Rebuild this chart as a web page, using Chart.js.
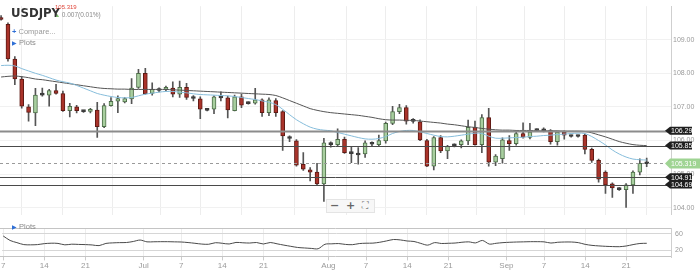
<!DOCTYPE html>
<html><head><meta charset="utf-8">
<script src="https://cdn.jsdelivr.net/npm/chart.js@4.4.0/dist/chart.umd.min.js"></script>
<style>
html,body{margin:0;padding:0;background:#fff;width:700px;height:276px;overflow:hidden;font-family:"Liberation Sans",Arial,sans-serif;}
canvas{position:absolute;left:0;}
#main{top:0;}
#sub{top:220px;}
.t{position:absolute;white-space:nowrap;line-height:1;}
</style></head><body>
<canvas id="main" width="700" height="221"></canvas>
<canvas id="sub" width="700" height="52"></canvas>

<div class="t" style="left:11px;top:5px;font:bold 13px 'Liberation Sans Narrow','DejaVu Sans Condensed',sans-serif;color:#333;">USDJPY</div>
<div class="t" style="left:55px;top:4px;font-size:6px;color:#e0463a;">105.319</div>
<div class="t" style="left:55px;top:12px;font-size:6.5px;color:#8a8a8a;"><span style="color:#7cc06e;font-size:5px;">&#9650;</span> 0.007(0.01%)</div>
<div class="t" style="left:12px;top:28px;font-size:7.5px;color:#9a9a9a;"><span style="color:#2f6fd6;font-weight:bold;">+</span> Compare...</div>
<div class="t" style="left:12px;top:39px;font-size:7.5px;color:#8a8a8a;"><span style="color:#2f6fd6;font-size:6px;">&#9654;</span> Plots</div>
<div class="t" style="left:12px;top:223px;font-size:7.5px;color:#8a8a8a;"><span style="color:#2f6fd6;font-size:6px;">&#9654;</span> Plots</div>
<div style="position:absolute;left:326px;top:199px;width:47px;height:12px;background:#f7f7f7;border:1px solid #e4e4e4;"></div>
<div class="t" style="left:330px;top:199px;font:bold 11px 'DejaVu Sans',sans-serif;color:#666;">&#8722;</div>
<div class="t" style="left:346px;top:199px;font:bold 11px 'DejaVu Sans',sans-serif;color:#666;">+</div>
<div class="t" style="left:362px;top:200px;font:9px 'DejaVu Sans',sans-serif;color:#777;">&#x26F6;</div>

<script>
// ---- categories (trading days, Sun-Fri) ----
const dates = [];
(function(){ let d = Date.UTC(2020,5,7); while (dates.length < 95) { const dt = new Date(d); if (dt.getUTCDay() !== 6) dates.push(dt.toISOString().slice(0,10)); d += 86400000; } })();

const tickDates  = ['2020-06-07','2020-06-14','2020-06-21','2020-07-01','2020-07-07','2020-07-14','2020-07-21','2020-08-02','2020-08-07','2020-08-14','2020-08-21','2020-09-01','2020-09-07','2020-09-14','2020-09-21'];
const tickLabels = ['7','14','21','Jul','7','14','21','Aug','7','14','21','Sep','7','14','21'];
const priceTicks = [104,105,106,107,108,109];
const subTicks = [20,60];

// ---- OHLC ----
const opens  = [109.66,109.46,108.42,107.83,107.00,106.82,107.37,107.35,107.49,107.40,106.89,107.00,106.87,106.87,106.91,106.41,107.04,107.17,107.15,107.24,107.58,108.00,107.40,107.51,107.52,107.56,107.38,107.58,107.27,107.24,106.92,106.93,107.29,107.27,106.89,107.30,107.12,107.11,107.21,106.83,107.19,106.86,106.08,105.99,105.29,105.13,105.06,104.71,105.90,105.88,106.04,105.63,105.59,105.60,105.91,105.88,105.99,106.51,106.86,106.98,106.59,106.56,106.00,105.24,106.09,105.69,105.86,105.88,105.99,106.39,105.88,106.68,105.36,105.46,106.00,105.91,106.21,106.09,106.31,106.31,106.30,105.97,106.25,106.14,106.14,106.16,105.74,105.41,105.06,104.71,104.56,104.54,104.68,105.06,105.33];
const highs  = [109.72,109.50,108.50,107.90,107.07,107.55,107.56,107.52,107.67,107.47,107.11,107.05,106.90,106.96,107.14,107.10,107.28,107.33,107.28,107.84,108.12,108.15,107.72,107.57,107.62,107.75,107.77,107.70,107.34,107.30,106.95,107.33,107.45,107.32,107.35,107.38,107.15,107.55,107.24,107.27,107.25,106.89,106.14,106.03,105.64,105.20,105.32,106.07,105.96,106.35,106.10,105.83,105.79,105.99,105.96,106.16,106.55,107.02,107.08,107.04,106.65,106.62,106.04,106.12,106.15,105.86,105.90,106.02,106.61,106.58,106.77,106.96,105.58,106.08,106.15,106.30,106.53,106.51,106.35,106.38,106.33,106.28,106.29,106.16,106.16,106.20,105.78,105.45,105.10,104.74,104.60,104.72,105.10,105.46,105.48];
const lows   = [109.58,108.36,107.66,106.96,106.58,106.44,107.32,107.02,107.38,106.87,106.70,106.82,106.84,106.82,106.09,106.38,107.02,106.83,107.12,107.10,107.55,107.38,107.35,107.45,107.48,107.30,107.28,107.22,107.18,106.65,106.88,106.80,107.18,106.67,106.88,106.98,107.08,107.08,106.72,106.74,106.72,105.71,105.97,105.24,105.11,104.80,104.68,104.19,105.80,105.83,105.62,105.34,105.30,105.50,105.85,105.85,105.92,106.47,106.80,106.49,106.52,106.00,105.22,105.13,105.64,105.46,105.81,105.78,105.88,105.86,105.64,105.24,105.25,105.33,105.71,105.86,106.07,106.05,106.27,106.26,105.89,105.86,106.04,106.10,106.10,105.60,105.35,104.76,104.43,104.31,104.52,104.01,104.43,104.98,105.22];
const closes = [109.60,108.43,107.83,107.02,106.84,107.35,107.35,107.49,107.40,106.89,107.02,106.89,106.86,106.93,106.41,107.04,107.17,107.25,107.25,107.56,108.00,107.39,107.52,107.49,107.58,107.38,107.58,107.28,107.25,106.93,106.90,107.30,107.27,106.91,107.30,107.05,107.10,107.21,106.83,107.21,106.83,106.14,106.06,105.27,105.15,105.06,104.71,105.93,105.88,106.04,105.64,105.61,105.57,105.93,105.89,106.00,106.51,106.86,106.98,106.58,106.57,106.02,105.24,106.09,105.69,105.83,105.84,105.99,106.39,105.88,106.68,105.36,105.54,106.02,105.91,106.21,106.10,106.25,106.30,106.29,105.97,106.25,106.16,106.12,106.12,105.74,105.41,104.85,104.68,104.59,104.54,104.68,105.06,105.32,105.31];

// ---- moving averages ----
const maSlow = [107.89,107.91,107.92,107.90,107.87,107.83,107.81,107.78,107.75,107.72,107.69,107.66,107.63,107.60,107.57,107.55,107.54,107.53,107.53,107.52,107.52,107.52,107.52,107.52,107.52,107.51,107.50,107.49,107.48,107.47,107.46,107.45,107.44,107.43,107.42,107.41,107.40,107.39,107.38,107.37,107.34,107.27,107.19,107.11,107.03,106.95,106.90,106.86,106.83,106.81,106.79,106.77,106.75,106.72,106.69,106.65,106.62,106.61,106.61,106.60,106.60,106.58,106.56,106.54,106.52,106.49,106.47,106.44,106.41,106.39,106.36,106.34,106.32,106.31,106.31,106.30,106.30,106.30,106.29,106.29,106.29,106.29,106.28,106.28,106.28,106.27,106.23,106.17,106.11,106.04,105.97,105.92,105.88,105.86,105.85];
const maFast = [108.23,108.24,108.22,108.14,108.07,108.00,107.94,107.87,107.80,107.75,107.71,107.64,107.56,107.48,107.40,107.35,107.31,107.28,107.27,107.28,107.33,107.38,107.41,107.44,107.46,107.46,107.44,107.42,107.39,107.37,107.36,107.35,107.34,107.33,107.31,107.28,107.25,107.22,107.18,107.14,107.07,106.93,106.77,106.62,106.50,106.40,106.34,106.31,106.29,106.24,106.19,106.14,106.09,106.05,106.04,106.06,106.12,106.21,106.27,106.30,106.30,106.26,106.21,106.16,106.12,106.11,106.13,106.16,106.19,106.22,106.21,106.13,106.07,106.07,106.08,106.09,106.10,106.12,106.13,106.15,106.16,106.18,106.19,106.21,106.22,106.21,106.12,106.00,105.87,105.72,105.60,105.51,105.45,105.43,105.42];

// ---- lower panel oscillator ----
const osc = [54.9,44.0,38.7,33.9,33.3,33.9,36.2,37.3,36.8,33.3,34.9,34.3,33.9,33.0,31.4,36.8,38.1,38.7,39.0,41.5,45.0,40.6,40.8,41.0,41.0,40.6,40.2,38.9,37.1,35.2,34.7,38.5,37.1,35.4,39.2,38.3,37.7,39.0,35.4,39.0,35.8,32.6,29.7,26.9,25.7,24.6,23.8,34.7,35.8,36.4,34.3,33.7,36.4,37.3,37.5,39.6,42.9,46.3,45.3,42.7,41.5,36.8,32.6,38.7,36.6,37.1,37.7,39.6,40.6,38.1,44.0,35.2,37.1,38.7,39.6,40.2,40.6,41.0,41.0,40.6,37.7,39.6,40.2,40.2,38.7,34.5,32.0,30.7,29.7,29.1,28.8,30.5,33.9,36.6,37.1];

// ---- drawn levels ----
const levels = [106.29, 105.85, 104.91, 104.69];
const lastPrice = 105.319;

Chart.defaults.font.family = '"Liberation Sans", Arial, sans-serif';
// month labels sit on the month boundary (half a slot before the first session of the month)
const monthNames = ['Jul','Aug','Sep'];
const tickPos = tickDates.map((d,k) => dates.indexOf(d) - (monthNames.includes(tickLabels[k]) ? 0.5 : 0));
const XMIN = -0.16, XMAX = 97.54;

const bodyColor = opens.map((o,i) => Math.abs(closes[i]-o) < 0.04 ? '#3a3a3a' : (closes[i] >= o ? '#a8cf9f' : '#a9332a'));
const bodyBorder = opens.map((o,i) => Math.abs(closes[i]-o) < 0.04 ? '#3a3a3a' : (closes[i] >= o ? '#4d6d48' : '#5e1a14'));

const levelsPlugin = {
  id: 'levels',
  afterDatasetsDraw(chart) {
    const {ctx, chartArea: a, scales: {y}} = chart;
    ctx.save();
    levels.forEach((v, k) => {
      const py = Math.round(y.getPixelForValue(v)) + 0.5;
      ctx.beginPath(); ctx.moveTo(a.left, py); ctx.lineTo(a.right, py);
      ctx.strokeStyle = k === 0 ? '#8c8c8c' : '#4a4a4a'; ctx.lineWidth = k === 0 ? 2 : 1; ctx.stroke();
    });
    const py = Math.round(y.getPixelForValue(lastPrice)) + 0.5;
    ctx.setLineDash([3,3]); ctx.beginPath(); ctx.moveTo(a.left, py); ctx.lineTo(a.right, py);
    ctx.strokeStyle = '#9a9a9a'; ctx.lineWidth = 1; ctx.stroke(); ctx.setLineDash([]);
    ctx.restore();
  },
  afterDraw(chart) {
    const {ctx, chartArea: a, scales: {y}} = chart;
    ctx.save();
    ctx.font = '7px "Liberation Sans", Arial, sans-serif';
    ctx.textBaseline = 'middle'; ctx.textAlign = 'left';
    const tag = (v, text, fill, w, h) => {
      const py = y.getPixelForValue(v); const x0 = a.right - 6;
      ctx.beginPath(); ctx.moveTo(x0, py); ctx.lineTo(x0 + 5, py - h/2); ctx.lineTo(x0 + w, py - h/2);
      ctx.lineTo(x0 + w, py + h/2); ctx.lineTo(x0 + 5, py + h/2); ctx.closePath();
      ctx.fillStyle = fill; ctx.fill();
      ctx.fillStyle = '#fff'; ctx.fillText(text, x0 + 6, py + 0.5);
    };
    levels.forEach(v => tag(v, v.toFixed(2), '#1f1f1f', 27, 8));
    tag(lastPrice, lastPrice.toFixed(3), '#9fd493', 35, 10);
    ctx.restore();
  }
};

new Chart(document.getElementById('main'), {
  type: 'bar',
  data: { datasets: [
    { type: 'line', data: maFast.map((v,i)=>({x:i,y:v})), borderColor: '#86bddb', borderWidth: 1, pointRadius: 0, tension: 0.3, order: -2 },
    { type: 'line', data: maSlow.map((v,i)=>({x:i,y:v})), borderColor: '#555', borderWidth: 1, pointRadius: 0, tension: 0.3, order: -1 },
    { data: opens.map((o,i)=>({x:i,y:[o,closes[i]]})), backgroundColor: bodyColor, borderColor: bodyBorder, borderWidth: 1, borderSkipped: false, barThickness: 4, minBarLength: 2, grouped: false, order: 0 },
    { data: lows.map((l,i)=>({x:i,y:[l,highs[i]]})), backgroundColor: '#555', barThickness: 1, grouped: false, order: 1 }
  ]},
  options: {
    responsive: false, animation: false, events: [],
    layout: { padding: 0 },
    plugins: { legend: { display: false }, tooltip: { enabled: false } },
    scales: {
      x: { type: 'linear', min: XMIN, max: XMAX, offset: false,
           afterBuildTicks: s => { s.ticks = tickPos.map(v => ({value: v})); },
           border: { display: false }, grid: { drawTicks: false, color: '#ededed' }, ticks: { display: false } },
      y: { position: 'right', min: 103.792, max: 109.996,
           afterBuildTicks: s => { s.ticks = priceTicks.map(v => ({value: v})); },
           afterFit: s => { s.width = 29; },
           border: { display: true, color: '#cfcfcf' },
           grid: { drawTicks: false, color: '#f1f1f1' },
           ticks: { padding: 2, color: '#9a9a9a', font: { size: 7 }, callback: v => Number(v).toFixed(2) } }
    }
  },
  plugins: [levelsPlugin]
});

const subPlugin = {
  id: 'subBorders',
  afterDraw(chart) {
    const {ctx, chartArea: a} = chart;
    ctx.save(); ctx.strokeStyle = '#c4c4c4'; ctx.lineWidth = 1;
    ctx.beginPath(); ctx.moveTo(0, Math.round(a.top) + 0.5); ctx.lineTo(a.right, Math.round(a.top) + 0.5);
    ctx.moveTo(0, Math.round(a.bottom) - 0.5); ctx.lineTo(a.right, Math.round(a.bottom) - 0.5); ctx.stroke();
    ctx.restore();
  }
};

new Chart(document.getElementById('sub'), {
  type: 'line',
  data: { datasets: [
    { data: osc.map((v,i)=>({x:i,y:v})), borderColor: '#4a4a4a', borderWidth: 1, pointRadius: 0, tension: 0.3 }
  ]},
  options: {
    responsive: false, animation: false, events: [],
    layout: { padding: { top: 1 } },
    plugins: { legend: { display: false }, tooltip: { enabled: false } },
    scales: {
      x: { type: 'linear', min: XMIN, max: XMAX, offset: false,
           afterBuildTicks: s => { s.ticks = tickPos.map(v => ({value: v})); },
           border: { display: false },
           grid: { color: '#ededed', tickLength: 3, tickColor: '#cccccc' },
           ticks: { autoSkip: false, maxRotation: 0, padding: 1, color: '#9a9a9a', font: { size: 8 },
                    callback: (v) => { const k = tickPos.indexOf(v); return k >= 0 ? tickLabels[k] : ''; } } },
      y: { position: 'right', min: 2.67, max: 73.9,
           afterBuildTicks: s => { s.ticks = subTicks.map(v => ({value: v})); },
           afterFit: s => { s.width = 29; },
           border: { display: true, color: '#cfcfcf' },
           grid: { drawTicks: false, color: '#d6d6d6' },
           ticks: { padding: 4, color: '#9a9a9a', font: { size: 7 } } }
    }
  },
  plugins: [subPlugin]
});
</script>
</body></html>
